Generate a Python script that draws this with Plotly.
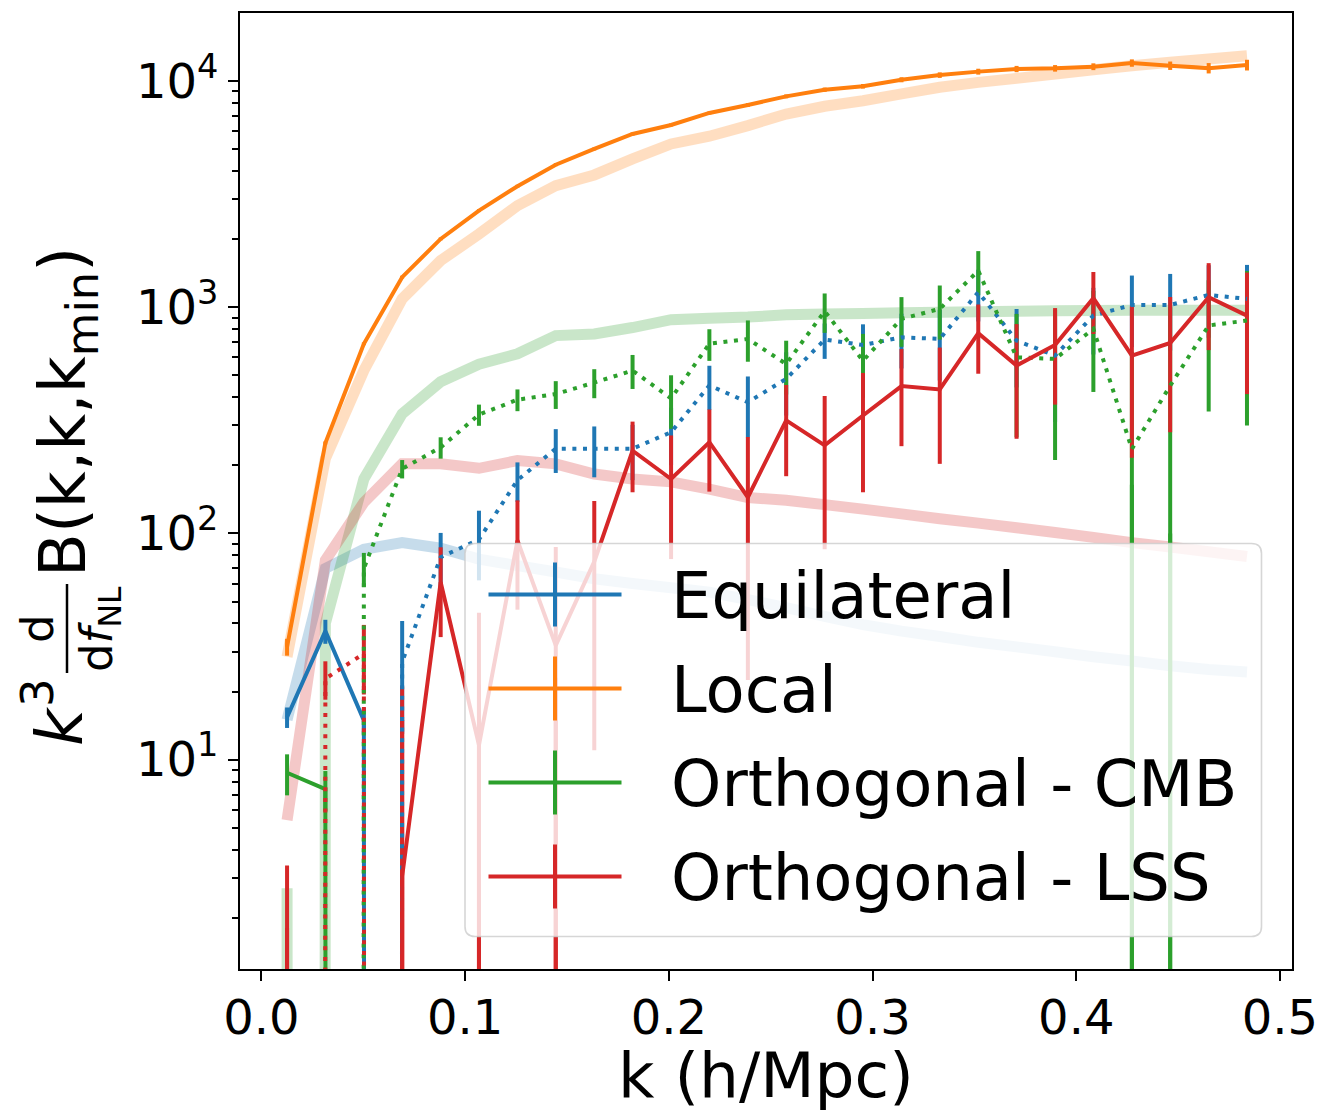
import plotly.graph_objects as go

# ---------------- data ----------------
k_values = [0.0126, 0.0314, 0.0503, 0.0691, 0.0880, 0.1068, 0.1257, 0.1445, 0.1634,
            0.1822, 0.2011, 0.2199, 0.2388, 0.2576, 0.2765, 0.2953, 0.3142, 0.3330,
            0.3519, 0.3707, 0.3896, 0.4084, 0.4273, 0.4461, 0.4650, 0.4838]

series_names = ["Equilateral", "Local", "Orthogonal - CMB", "Orthogonal - LSS"]
series_colors = ["#1f77b4", "#ff7f0e", "#2ca02c", "#d62728"]

# theory curves (thick, translucent)
theory_equilateral = [15, 70, 85, 91, 86, 77, 72, 67.5, 63, 60, 57.5, 55, 51, 47, 43, 39.5,
                      37, 35, 33, 31.5, 30, 28.5, 27.3, 26, 25, 24.4]
theory_local = [28.5, 214, 525, 1088, 1607, 2108, 2812, 3443, 3843, 4522, 5268, 5700, 6350,
                7140, 7730, 8180, 8770, 9380, 9860, 10270, 10740, 11220, 11690, 12100,
                12510, 12930]
theory_ortho_cmb = [-2.7, 40, 174, 338, 468, 560, 622, 749, 762, 813, 881, 893, 904, 925,
                    932, 938, 945, 950, 955, 960, 965, 968, 970, 970, 970, 970]
theory_ortho_lss = [5.4, 76, 137, 203, 203, 194, 210, 203, 183, 174, 169, 157, 144, 140, 134,
                    128, 122, 116, 111, 106, 101, 96, 91, 87, 83, 79]

# measured bispectra (signed) and their errors
measured_equilateral = [15.4, 37, 14.9, -27, -78.5, -94, -172, -237, -237, -237, -280, -451,
                        -380, -482, -719, -680, -736, -724, -1165, -712, -611, -918, -1023,
                        -1023, -1133, -1088]
error_equilateral = [1.6, 4.5, 2, 14, 22, 32, 34, 52, 60, 65, 80, 100, 114, 150, 128, 160,
                     200, 250, 300, 270, 300, 300, 357, 380, 400, 450]

measured_local = [31.5, 251, 689, 1358, 2004, 2673, 3426, 4266, 5008, 5834, 6393, 7224, 7834,
                  8551, 9155, 9480, 10130, 10620, 11000, 11300, 11380, 11570, 12010, 11690,
                  11400, 11770]
error_local = [2.7, 4, 10, 20, 30, 40, 50, 65, 75, 90, 100, 110, 150, 170, 200, 220, 260, 300,
               330, 360, 380, 400, 450, 500, 600, 640]

measured_ortho_cmb = [8.75, 7.4, -70, -193, -240, -335, -390, -413, -464, -525, -395, -689,
                      -724, -561, -960, -580, -888, -983, -1450, -600, -591, -802, -236, -450,
                      -830, -873]
error_ortho_cmb = [1.8, 1.5, 12, 18, 26, 36, 43, 58, 68, 90, 105, 110, 150, 150, 190, 182,
                   220, 264, 320, 334, 380, 380, 400, 550, 484, 573]

measured_ortho_lss = [0.8, -22.8, -29.4, 3.05, 60.8, 11.6, 93, 32, 75, 232, 174, 253, 144.5,
                      316, 245, 332, 448, 433, 768, 552, 681, 1096, 611, 695, 1106, 918]
error_ortho_lss = [2.6, 4.4, 10, 18, 26, 33, 47, 55, 64, 80, 97, 100, 122, 137, 160, 180, 205,
                   230, 260, 290, 310, 335, 395, 415, 460, 505]

x_tick_values = [0.0, 0.1, 0.2, 0.3, 0.4, 0.5]
y_tick_values = [10, 100, 1000, 10000]
y_tick_labels = ["10<sup>1</sup>", "10<sup>2</sup>", "10<sup>3</sup>", "10<sup>4</sup>"]

theory = [theory_equilateral, theory_local, theory_ortho_cmb, theory_ortho_lss]
measured = [measured_equilateral, measured_local, measured_ortho_cmb, measured_ortho_lss]
errors = [error_equilateral, error_local, error_ortho_cmb, error_ortho_lss]

# ---------------- helpers ----------------
CLIP = 1e-300  # log-scale clipping of non-positive values (like matplotlib's 'clip')
FONT = "DejaVu Sans"
W, H = 1323, 1111
PL, PR, PT, PB = 240, 1292, 13, 969


def positive(vals):
    return [v if v > 0 else CLIP for v in vals]


def negative(vals):
    return [-v if v < 0 else CLIP for v in vals]


def px(x):
    return (x - PL) / (PR - PL)


def py(y):
    return (PB - y) / (PB - PT)


fig = go.Figure()

# theory curves: |value| drawn for both signs, thick and translucent
for vals, col in zip(theory, series_colors):
    for branch in (positive(vals), negative(vals)):
        fig.add_trace(go.Scatter(x=k_values, y=branch, mode="lines",
                                 line=dict(color=col, width=11, simplify=False),
                                 opacity=0.25, showlegend=False, hoverinfo="skip"))

# error bars (below every data line)
for vals, errs, col in zip(measured, errors, series_colors):
    for sign in (1, -1):
        xs, ys = [], []
        for kk, v, e in zip(k_values, vals, errs):
            c = sign * v
            hi = c + e
            if hi <= 0:
                continue
            lo = c - e
            xs += [kk, kk, None]
            ys += [lo if lo > 0 else CLIP, hi, None]
        fig.add_trace(go.Scatter(x=xs, y=ys, mode="lines",
                                 line=dict(color=col, width=4, simplify=False),
                                 showlegend=False, hoverinfo="skip", connectgaps=False))

# data lines: solid for positive values, dotted for |negative| values
for vals, col, name in zip(measured, series_colors, series_names):
    fig.add_trace(go.Scatter(x=k_values, y=positive(vals), mode="lines", name=name,
                             line=dict(color=col, width=4, simplify=False),
                             showlegend=False))
    fig.add_trace(go.Scatter(x=k_values, y=negative(vals), mode="lines", name=name + " (-)",
                             line=dict(color=col, width=4, dash="4px,6.6px", simplify=False),
                             showlegend=False))

shapes = []
annotations = []

# ---------------- legend (matplotlib style box) ----------------
lx0, lx1, ly0, ly1, rad = 465, 1261.5, 543.5, 936.5, 10
rx = rad / (PR - PL)
ry = rad / (PB - PT)
X0, X1, Y0, Y1 = px(lx0), px(lx1), py(ly1), py(ly0)
path = (f"M {X0+rx},{Y0} L {X1-rx},{Y0} Q {X1},{Y0} {X1},{Y0+ry} "
        f"L {X1},{Y1-ry} Q {X1},{Y1} {X1-rx},{Y1} L {X0+rx},{Y1} "
        f"Q {X0},{Y1} {X0},{Y1-ry} L {X0},{Y0+ry} Q {X0},{Y0} {X0+rx},{Y0} Z")
shapes.append(dict(type="path", path=path, xref="paper", yref="paper", layer="above",
                   fillcolor="rgba(255,255,255,0.8)",
                   line=dict(color="rgba(204,204,204,0.8)", width=1.6)))
row_y = [594.5, 688.5, 782.5, 876.5]
for name, col, yc in zip(series_names, series_colors, row_y):
    shapes.append(dict(type="line", xref="paper", yref="paper", layer="above",
                       x0=px(488.5), x1=px(621.5), y0=py(yc), y1=py(yc),
                       line=dict(color=col, width=4)))
    shapes.append(dict(type="line", xref="paper", yref="paper", layer="above",
                       x0=px(555), x1=px(555), y0=py(yc - 32), y1=py(yc + 32),
                       line=dict(color=col, width=4)))
    annotations.append(dict(text=name, x=px(669), y=py(yc + 1), xref="paper", yref="paper",
                            xanchor="left", yanchor="middle", showarrow=False,
                            font=dict(family=FONT, size=64, color="black")))

# ---------------- axis titles ----------------
annotations.append(dict(text="k (h/Mpc)", x=px(766), y=py(1075), xref="paper", yref="paper",
                        xanchor="center", yanchor="middle", showarrow=False,
                        font=dict(family=FONT, size=63, color="black")))

# y label: k^3 d/df_NL B(k,k,k_min), built from rotated pieces
def ylab(text, xc, yc, size):
    annotations.append(dict(text=text, x=px(xc), y=py(yc), xref="paper", yref="paper",
                            xanchor="center", yanchor="middle", showarrow=False,
                            textangle=-90, font=dict(family=FONT, size=size, color="black")))

ylab("<i>k</i>", 60, 726, 64)
ylab("3", 37, 693, 45)
ylab("d", 37, 629, 45)
ylab("d<i>f</i><sub>NL</sub>", 99, 629, 45)
ylab("B(k,k,k<sub>min</sub>)", 67, 412, 64)
shapes.append(dict(type="line", xref="paper", yref="paper", x0=px(67), x1=px(67),
                   y0=py(584), y1=py(673), line=dict(color="black", width=2.5)))

minor_vals = [m * 10 ** d for d in range(0, 5) for m in range(2, 10) if m * 10 ** d < 19900]

fig.update_layout(
    width=W, height=H,
    margin=dict(l=PL, r=W - PR, t=PT, b=H - PB, autoexpand=False),
    paper_bgcolor="white", plot_bgcolor="white",
    showlegend=False,
    shapes=shapes, annotations=annotations,
    font=dict(family=FONT, color="black"),
)
fig.update_xaxes(range=[-0.0105, 0.5059], tickvals=x_tick_values, tickformat=".1f",
                 ticks="outside", ticklen=10, tickwidth=2, tickcolor="black",
                 ticklabelstandoff=-5,
                 showline=True, linecolor="black", linewidth=2, mirror=True,
                 showgrid=False, zeroline=False, automargin=False,
                 tickfont=dict(family=FONT, size=48, color="black"))
fig.update_yaxes(type="log", range=[0.0743, 4.3006], tickvals=y_tick_values,
                 ticktext=y_tick_labels,
                 ticks="outside", ticklen=10, tickwidth=2, tickcolor="black",
                 minor=dict(tickvals=minor_vals, ticks="outside", ticklen=6, tickwidth=1.5,
                            tickcolor="black", showgrid=False),
                 showline=True, linecolor="black", linewidth=2, mirror=True,
                 showgrid=False, zeroline=False, automargin=False,
                 tickfont=dict(family=FONT, size=48, color="black"))

fig.write_html("out.html")
